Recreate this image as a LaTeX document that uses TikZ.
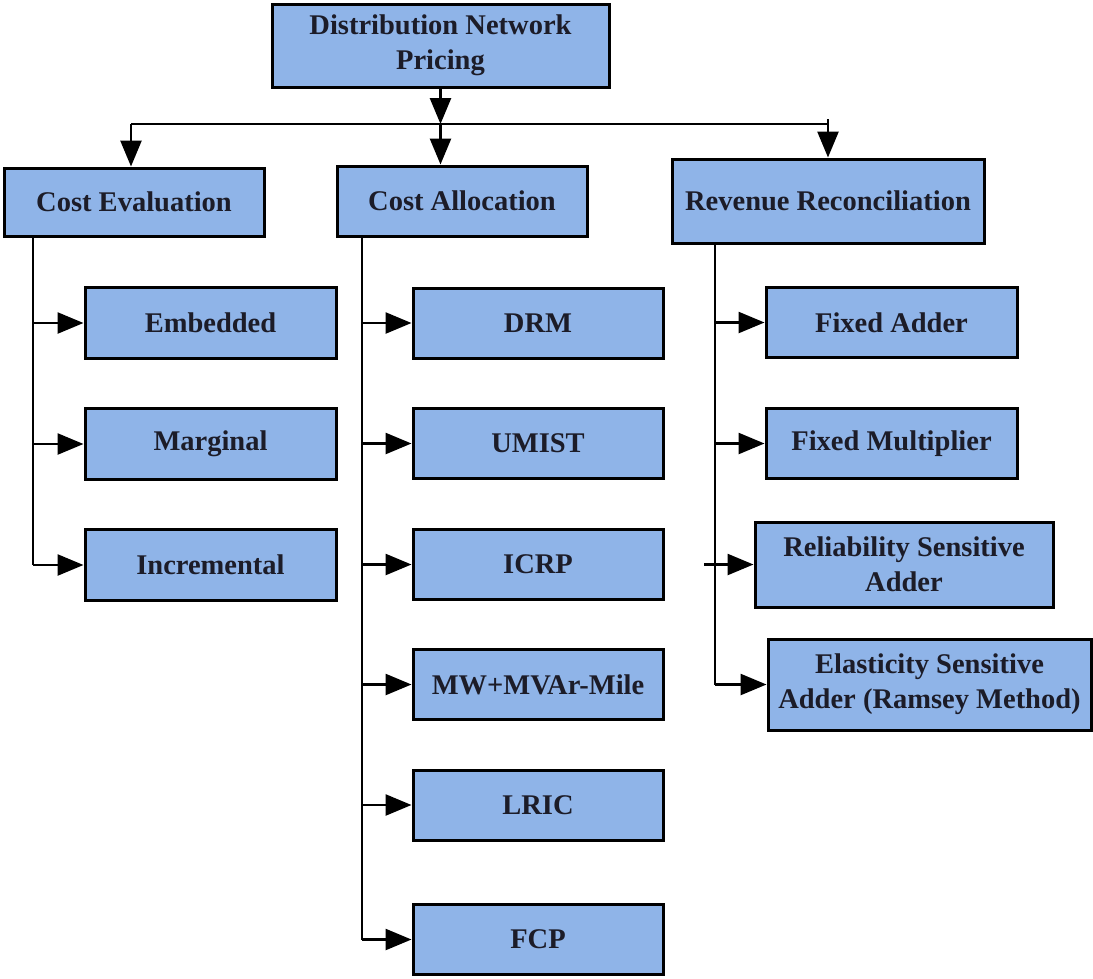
\documentclass[tikz,border=0pt]{standalone}
\usepackage{fontspec}
\setmainfont{Liberation Serif}
\usetikzlibrary{arrows.meta}
\definecolor{boxfill}{RGB}{143,180,232}
\definecolor{boxtext}{RGB}{28,28,40}
\tikzset{
  box/.style={draw=black, line width=3pt, fill=boxfill, text=boxtext,
    align=center, inner sep=0pt,
    font=\fontsize{28.5}{35}\selectfont\bfseries},
  link/.style={line width=2.6pt, draw=black},
  arr/.style={link, -{Triangle[length=26pt,width=21pt]}}
}
\begin{document}
\begin{tikzpicture}[x=1pt,y=-1pt]
\useasboundingbox (0,0) rectangle (1093,978);

% root and the three main branches
\node[box, minimum width=337pt, minimum height=83pt] (root) at (440.5,45.5) {Distribution Network\\Pricing};
\node[box, minimum width=260pt, minimum height=68pt] (ce) at (134,202) {Cost Evaluation};
\node[box, minimum width=250pt, minimum height=70pt] (ca) at (462,201) {Cost Allocation};
\node[box, minimum width=312pt, minimum height=84pt] (rr) at (828,201) {Revenue Reconciliation};

% cost evaluation methods
\node[box, minimum width=251pt, minimum height=71pt] (emb) at (210.5,323) {Embedded};
\node[box, minimum width=251pt, minimum height=71pt] (mar) at (210.5,444) {Marginal};
\node[box, minimum width=251pt, minimum height=71pt] (inc) at (210.5,565) {Incremental};

% cost allocation methods
\node[box, minimum width=250pt, minimum height=70pt] (drm) at (538,323) {DRM};
\node[box, minimum width=250pt, minimum height=70pt] (umist) at (538,443.5) {UMIST};
\node[box, minimum width=250pt, minimum height=70pt] (icrp) at (538,564.5) {ICRP};
\node[box, minimum width=250pt, minimum height=70pt] (mw) at (538,684.5) {MW+MVAr-Mile};
\node[box, minimum width=250pt, minimum height=70pt] (lric) at (538,805) {LRIC};
\node[box, minimum width=250pt, minimum height=70pt] (fcp) at (538,939.5) {FCP};

% revenue reconciliation methods
\node[box, minimum width=251pt, minimum height=70pt] (fa) at (891.5,322.5) {Fixed Adder};
\node[box, minimum width=251pt, minimum height=70pt] (fm) at (891.5,443.5) {Fixed Multiplier};
\node[box, minimum width=298pt, minimum height=85pt] (rsa) at (904,564.5) {Reliability Sensitive\\Adder};
\node[box, minimum width=323pt, minimum height=91pt] (esa) at (929.5,684.5) {Elasticity Sensitive\\Adder (Ramsey Method)};

% top distribution bus
\coordinate (hub) at (440.5,124);
\coordinate (busL) at (131,124);
\coordinate (busR) at (828,124);
\coordinate (stubR) at (828,119);
\draw[arr] (root.south) -- (hub);
\draw[link] (busL) -- (busR);
\draw[arr] (hub) -- (hub |- ca.north);
\draw[arr] (busL) -- (busL |- ce.north);
\draw[arr] (stubR) -- (stubR |- rr.north);

% trunks
\coordinate (tl) at (33,0);
\coordinate (tm) at (362,0);
\coordinate (tr) at (715,0);
\coordinate (rsaStart) at (704,564.5);

\draw[link] (tl |- ce.south) -- (tl |- inc.west);
\draw[arr] (tl |- emb.west) -- (emb.west);
\draw[arr] (tl |- mar.west) -- (mar.west);
\draw[arr] (tl |- inc.west) -- (inc.west);

\draw[link] (tm |- ca.south) -- (tm |- fcp.west);
\draw[arr] (tm |- drm.west) -- (drm.west);
\draw[arr] (tm |- umist.west) -- (umist.west);
\draw[arr] (tm |- icrp.west) -- (icrp.west);
\draw[arr] (tm |- mw.west) -- (mw.west);
\draw[arr] (tm |- lric.west) -- (lric.west);
\draw[arr] (tm |- fcp.west) -- (fcp.west);

\draw[link] (tr |- rr.south) -- (tr |- esa.west);
\draw[arr] (tr |- fa.west) -- (fa.west);
\draw[arr] (tr |- fm.west) -- (fm.west);
\draw[arr] (rsaStart) -- (rsa.west);
\draw[arr] (tr |- esa.west) -- (esa.west);
\end{tikzpicture}
\end{document}
